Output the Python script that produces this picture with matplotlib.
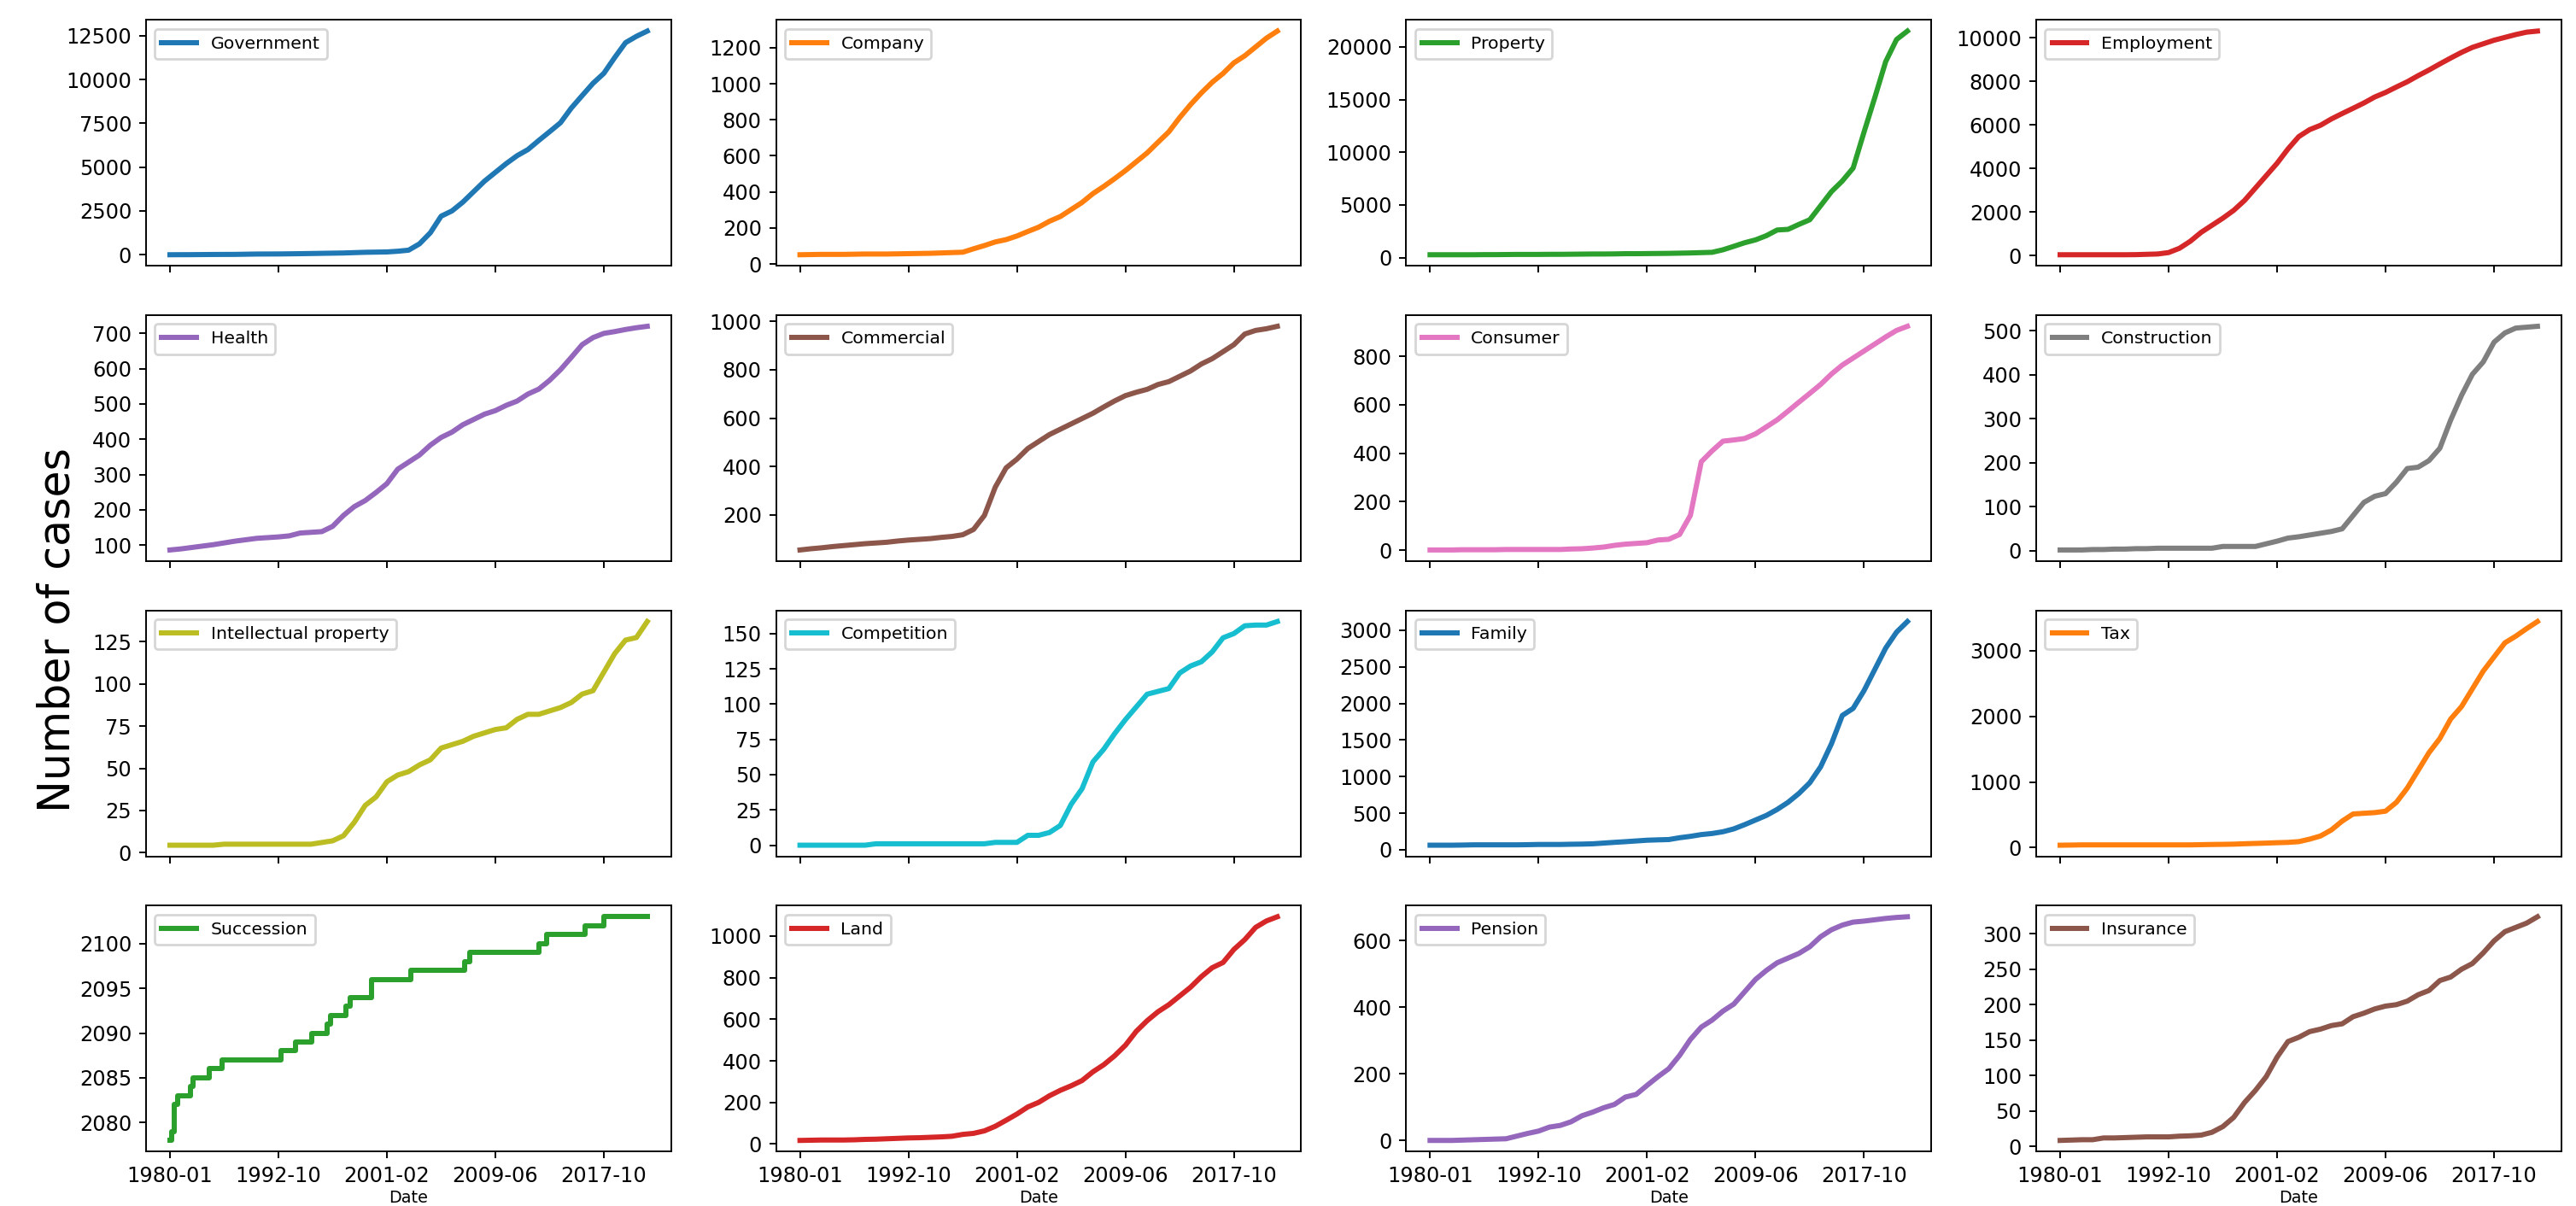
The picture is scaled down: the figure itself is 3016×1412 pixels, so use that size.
import numpy as np
import matplotlib
matplotlib.use("Agg")
import matplotlib.pyplot as plt
from matplotlib.ticker import MaxNLocator

# ---------------- data ----------------
# x positions are row indices of the (irregular) date index; ticks every 100 rows
tick_positions = [0, 100, 200, 300, 400]
tick_labels = ["1980-01", "1992-10", "2001-02", "2009-06", "2017-10"]
row_index = list(range(0, 441, 10))

government = [0, 3, 5, 10, 15, 18, 20, 30, 40, 42, 45, 52, 60, 70, 80, 90, 100, 120, 140, 150,
              160, 200, 260, 620, 1250, 2200, 2500, 3000, 3600, 4200, 4700, 5200, 5650, 6000,
              6520, 7020, 7530, 8370, 9080, 9780, 10350, 11250, 12100, 12460, 12760]
company = [51, 52, 53, 53, 53, 54, 55, 55, 55, 56, 57, 58, 59, 61, 63, 65, 84, 102, 122, 135,
           155, 180, 204, 237, 263, 302, 341, 390, 430, 473, 518, 567, 616, 675, 733, 812, 884,
           949, 1008, 1057, 1116, 1155, 1204, 1253, 1292]
property_ = [270, 270, 270, 270, 270, 280, 280, 290, 300, 300, 300, 310, 310, 320, 330, 340, 340,
             350, 370, 370, 380, 390, 400, 420, 440, 470, 500, 740, 1070, 1410, 1680, 2080, 2620,
             2680, 3150, 3590, 4920, 6260, 7270, 8500, 11900, 15200, 18600, 20700, 21500]
employment = [30, 30, 30, 30, 30, 30, 30, 35, 50, 65, 130, 326, 650, 1060, 1385, 1710, 2070, 2525,
              3095, 3665, 4235, 4890, 5460, 5780, 5980, 6270, 6520, 6760, 7005, 7280, 7490, 7740,
              7980, 8260, 8520, 8800, 9070, 9330, 9560, 9725, 9890, 10020, 10150, 10260, 10310]
health = [86, 89, 93, 97, 101, 106, 111, 115, 119, 121, 123, 126, 134, 136, 138, 153, 184, 209,
          226, 249, 274, 315, 335, 355, 383, 405, 420, 441, 456, 471, 481, 496, 508, 528, 542, 567,
          597, 632, 668, 688, 700, 705, 711, 716, 720]
commercial = [54, 59, 63, 68, 72, 76, 80, 83, 86, 91, 95, 98, 101, 106, 110, 117, 139, 197, 314,
              394, 430, 474, 503, 532, 554, 576, 598, 620, 646, 671, 693, 707, 719, 739, 751, 773,
              795, 824, 846, 875, 904, 948, 963, 970, 980]
consumer = [1, 1, 1, 2, 2, 2, 2, 3, 3, 3, 3, 3, 3, 5, 6, 9, 13, 20, 25, 28, 31, 42, 45, 65, 144,
            365, 410, 450, 455, 461, 480, 509, 538, 574, 611, 647, 684, 727, 764, 793, 822, 851,
            880, 907, 924]
construction = [2, 2, 2, 3, 3, 4, 4, 5, 5, 6, 6, 6, 6, 6, 6, 10, 10, 10, 10, 16, 22, 29, 32, 36,
                40, 44, 50, 80, 110, 124, 130, 156, 187, 190, 205, 233, 297, 353, 401, 429, 474,
                495, 506, 508, 510]
intellectual = [4.4, 4.4, 4.4, 4.4, 4.4, 5, 5, 5, 5, 5, 5, 5, 5, 5, 6, 7, 10, 18, 28, 33, 42, 46,
                48, 52, 55, 62, 64, 66, 69, 71, 73, 74, 79, 82, 82, 84, 86, 89, 94, 96, 107, 118,
                126, 127.5, 137]
competition = [0, 0, 0, 0, 0, 0, 0, 1, 1, 1, 1, 1, 1, 1, 1, 1, 1, 1, 2, 2, 2, 7, 7, 9, 14, 29, 40,
               59, 68, 79, 89, 98, 107, 109, 111, 122, 127, 130, 137, 147, 150, 155.5, 156, 156,
               158.5]
family = [63, 63, 63, 65, 68, 68, 68, 68, 68, 70, 73, 73, 73, 76, 78, 82, 92, 102, 111, 121, 131,
          136, 140, 165, 184, 208, 223, 247, 286, 344, 407, 470, 552, 649, 770, 916, 1134, 1449,
          1836, 1933, 2175, 2466, 2757, 2975, 3120]
tax = [38, 40, 43, 43, 43, 43, 43, 43, 43, 43, 43, 43, 43, 46, 49, 51, 54, 60, 65, 70, 76, 81, 92,
       130, 178, 270, 405, 513, 524, 534, 556, 691, 907, 1177, 1446, 1662, 1959, 2148, 2418, 2688,
       2904, 3119, 3220, 3335, 3443]
land = [17, 18, 19, 19, 19, 20, 22, 23, 25, 27, 29, 30, 32, 34, 37, 46, 51, 63, 85, 114, 144, 178,
        200, 232, 258, 280, 305, 347, 381, 424, 475, 542, 593, 636, 670, 712, 754, 805, 848, 873,
        936, 983, 1042, 1073, 1093]
pension = [0, 0, 0, 1, 2, 3, 4, 5, 13, 21, 28, 40, 45, 56, 74, 85, 98, 108, 130, 138, 165, 191,
           215, 255, 303, 340, 361, 388, 409, 446, 483, 510, 533, 547, 561, 581, 611, 632, 646,
           655, 658, 662, 666, 669, 671]
insurance = [8.5, 9, 9.5, 9.5, 12, 12, 12.5, 13, 13.5, 13.5, 13.5, 14.5, 15, 16, 20, 28, 41, 62,
             79, 98.5, 126, 148, 154, 162, 165.5, 170.5, 173, 183, 188, 194, 198, 200, 205, 214,
             220, 234, 239, 250, 258, 273, 290, 303, 309, 315, 324]

# Succession changes in single steps: rows where the count changes and its new value
succession_rows = [0, 2, 4, 7, 19, 21, 36, 48, 102, 116, 131, 145, 148, 162, 166, 186, 222, 272,
                   276, 340, 347, 383, 400, 440]
succession_vals = [2078, 2079, 2082, 2083, 2084, 2085, 2086, 2087, 2088, 2089, 2090, 2091, 2092,
                   2093, 2094, 2096, 2097, 2098, 2099, 2100, 2101, 2102, 2103, 2103]

series_names = ["Government", "Company", "Property", "Employment",
                "Health", "Commercial", "Consumer", "Construction",
                "Intellectual property", "Competition", "Family", "Tax",
                "Succession", "Land", "Pension", "Insurance"]
series_values = [government, company, property_, employment,
                 health, commercial, consumer, construction,
                 intellectual, competition, family, tax,
                 None, land, pension, insurance]

# ---------------- style ----------------
k = 0.8675  # scale from original render resolution to dpi 200
colors = ["#1f77b4", "#ff7f0e", "#2ca02c", "#d62728", "#9467bd", "#8c564b",
          "#e377c2", "#7f7f7f", "#bcbd22", "#17becf"]

plt.rcParams.update({
    "font.family": ["DejaVu Sans"],
    "xtick.labelsize": 10 * k,
    "ytick.labelsize": 10 * k,
    "xtick.major.size": 3.5 * k,
    "ytick.major.size": 3.5 * k,
    "xtick.major.width": 0.8 * k,
    "ytick.major.width": 0.8 * k,
    "xtick.major.pad": 3.5 * k,
    "ytick.major.pad": 3.5 * k,
    "axes.linewidth": 0.8 * k,
    "legend.fontsize": 8.5 * k,
})

fig, axes = plt.subplots(4, 4, figsize=(15.08, 7.06), dpi=200, sharex=True)
fig.subplots_adjust(left=0.0567, right=0.9943, top=0.9835, bottom=0.0451,
                    wspace=0.2, hspace=0.2)

for i, (name, vals) in enumerate(zip(series_names, series_values)):
    ax = axes.flat[i]
    col = colors[i % 10]
    if vals is None:
        ax.plot(succession_rows, succession_vals, color=col, lw=2.5 * k,
                drawstyle="steps-post", label=name)
    else:
        ax.plot(row_index, vals, color=col, lw=2.5 * k, label=name)
    ax.yaxis.set_major_locator(MaxNLocator(nbins=7, steps=[1, 2, 2.5, 5, 10]))
    ax.legend(loc="upper left")

axes[0, 0].set_xticks(tick_positions)
axes[0, 0].set_xticklabels(tick_labels)
axes[0, 0].set_xlim(-22, 462)
for ax in axes[-1, :]:
    ax.set_xlabel("Date", fontsize=8 * k, labelpad=1.5)

fig.text(0.0223, 0.478, "Number of cases", rotation=90, va="center", ha="center",
         fontsize=21 * k)

fig.savefig("out.png", dpi=200)
